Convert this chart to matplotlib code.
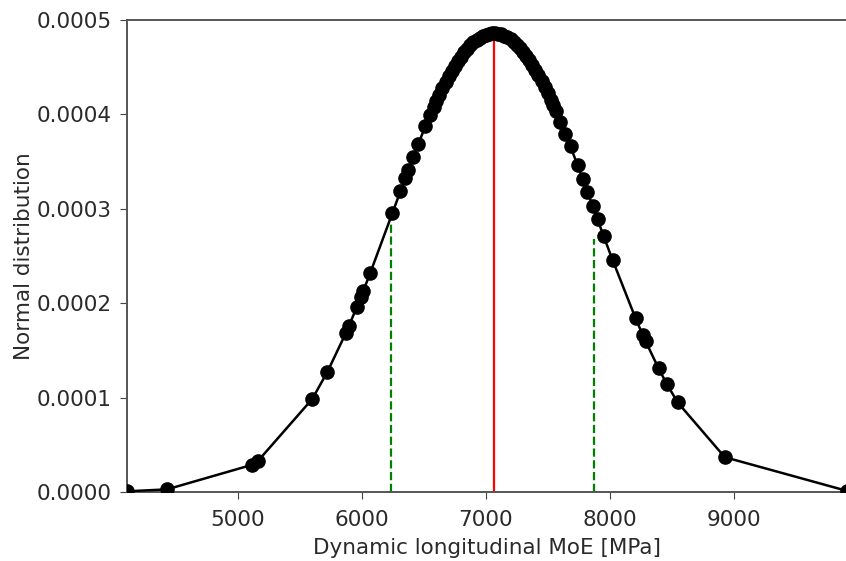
import matplotlib
matplotlib.use("Agg")
import matplotlib.pyplot as plt

# MoE values (MPa) and the normal-distribution density
moe = [4103, 4426, 5113, 5162, 5598, 5720, 5870, 5895, 5960, 5990, 6010, 6067,
       6245, 6310, 6350, 6374, 6415, 6455, 6512, 6552,
       6580, 6600, 6625, 6650, 6675, 6700, 6725, 6750, 6775, 6800, 6825, 6850,
       6875, 6900, 6925, 6950, 6975, 7000, 7025, 7050, 7075, 7100, 7125, 7150,
       7175, 7200, 7225, 7250, 7275, 7300, 7325, 7350, 7375, 7400, 7425, 7450,
       7475, 7500, 7525, 7545,
       7563, 7603, 7643, 7684, 7741, 7781, 7821, 7862, 7902, 7951, 8023,
       8209, 8266, 8290, 8395, 8460, 8549, 8929, 9915]
density = [0.0000007, 0.0000028, 0.0000288, 0.0000331, 0.0000984, 0.000127,
           0.0001684, 0.000176, 0.0001964, 0.0002063, 0.0002128, 0.000232,
           0.0002952, 0.0003184, 0.0003326, 0.000341, 0.0003553, 0.0003688,
           0.0003873, 0.0003998,
           0.0004082, 0.000414, 0.000421, 0.0004277, 0.0004341, 0.0004403,
           0.000446, 0.0004515, 0.0004566, 0.0004613, 0.0004657, 0.0004696,
           0.0004732, 0.0004763, 0.000479, 0.0004812, 0.0004831, 0.0004845,
           0.0004854, 0.0004859, 0.000486, 0.0004856, 0.0004847, 0.0004834,
           0.0004817, 0.0004795, 0.0004769, 0.0004738, 0.0004704, 0.0004665,
           0.0004622, 0.0004576, 0.0004526, 0.0004472, 0.0004414, 0.0004354,
           0.000429, 0.0004224, 0.0004154, 0.0004097,
           0.000404, 0.000392, 0.000379, 0.000366, 0.000346, 0.000332,
           0.000318, 0.000303, 0.000289, 0.000271, 0.000246,
           0.000184, 0.0001667, 0.0001597, 0.0001309, 0.0001147, 0.0000949,
           0.0000369, 0.0000012]

mean_moe = 7065
mean_top = 0.000486
sd_low, sd_low_top = 6234, 0.000286
sd_high, sd_high_top = 7876, 0.000268

xticks = [5000, 6000, 7000, 8000, 9000]
yticks = [0.0, 0.0001, 0.0002, 0.0003, 0.0004, 0.0005]
ytick_labels = ["0.0000", "0.0001", "0.0002", "0.0003", "0.0004", "0.0005"]

fig = plt.figure(figsize=(8.46, 5.61), dpi=100)
ax = fig.add_axes([127 / 846, 1 - 492 / 561, 1 - 127 / 846 + 0.001, (492 - 20) / 561])

ax.plot(moe, density, color="black", linewidth=1.8, marker="o", markersize=9.5,
        zorder=3)
ax.plot([mean_moe, mean_moe], [0, mean_top], color="red", linewidth=1.6, zorder=2)
ax.plot([sd_low, sd_low], [0, sd_low_top], color="green", linestyle="--",
        linewidth=1.6, zorder=2)
ax.plot([sd_high, sd_high], [0, sd_high_top], color="green", linestyle="--",
        linewidth=1.6, zorder=2)

ax.set_xlim(4103, 9915)
ax.set_ylim(0, 0.0005)
ax.set_xticks(xticks)
ax.set_yticks(yticks)
ax.set_yticklabels(ytick_labels)
ax.tick_params(labelsize=15.5, length=5, color="#444444", labelcolor="#2a2a2a")
ax.tick_params(axis="y", pad=6)
ax.tick_params(axis="x", pad=8)
for s in ax.spines.values():
    s.set_color("#555555")
    s.set_linewidth(1.4)

ax.set_xlabel("Dynamic longitudinal MoE [MPa]", fontsize=15.5, color="#2a2a2a",
              labelpad=6)
ax.set_ylabel("Normal distribution", fontsize=15.5, color="#2a2a2a")
ax.yaxis.set_label_coords(-0.129, 0.5)

fig.savefig("out.png", dpi=100)
